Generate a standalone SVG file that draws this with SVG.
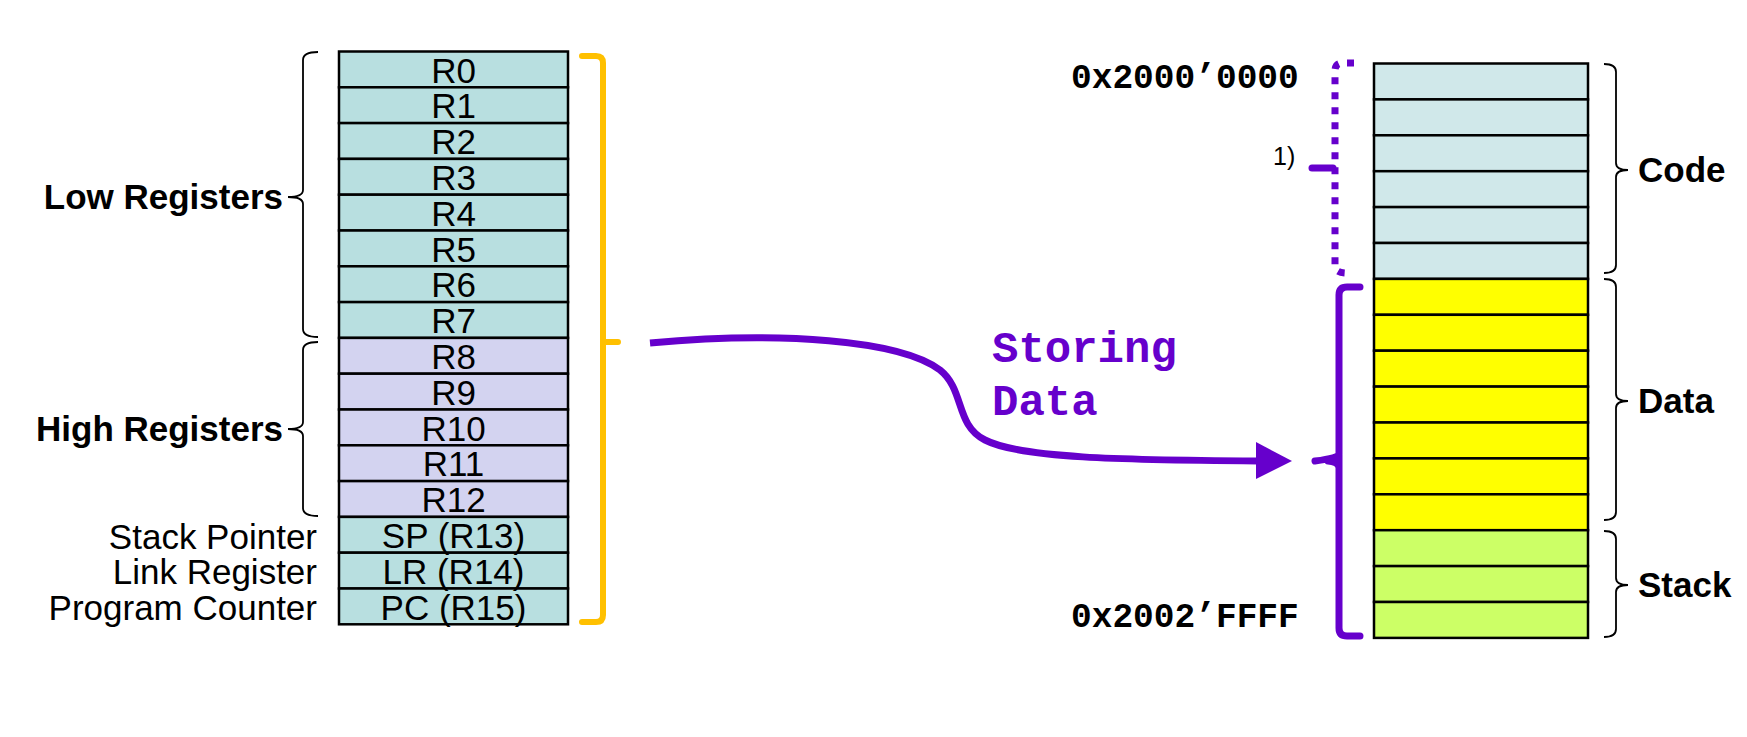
<svg xmlns="http://www.w3.org/2000/svg" width="1747" height="737" viewBox="0 0 1747 737">
<style>
.reg{font-family:"Liberation Sans",Arial,sans-serif;font-size:35px;fill:#000;text-anchor:middle}
.lbl{font-family:"Liberation Sans",Arial,sans-serif;font-size:35px;fill:#000;text-anchor:end}
.bold{font-family:"Liberation Sans",Arial,sans-serif;font-size:35px;font-weight:bold;fill:#000}
.mono{font-family:"Liberation Mono","Courier New",monospace;font-weight:bold;font-size:34.5px;fill:#000}
.purp{font-family:"Liberation Mono","Courier New",monospace;font-weight:bold;font-size:44px;fill:#6600cc}
.cell{stroke:#000;stroke-width:2.5}
.lo{fill:#b8dfe0}.hi{fill:#d3d3f0}.code{fill:#d0e8ea}.data{fill:#ffff00}.stk{fill:#ccff66}
.brace{fill:none;stroke:#000;stroke-width:1.8}
</style>
<g id="registers">
<rect class="cell lo" x="339" y="51.5" width="229" height="35.8"/>
<rect class="cell lo" x="339" y="87.3" width="229" height="35.8"/>
<rect class="cell lo" x="339" y="123.1" width="229" height="35.8"/>
<rect class="cell lo" x="339" y="158.9" width="229" height="35.8"/>
<rect class="cell lo" x="339" y="194.7" width="229" height="35.8"/>
<rect class="cell lo" x="339" y="230.5" width="229" height="35.8"/>
<rect class="cell lo" x="339" y="266.3" width="229" height="35.8"/>
<rect class="cell lo" x="339" y="302.1" width="229" height="35.8"/>
<rect class="cell hi" x="339" y="337.9" width="229" height="35.8"/>
<rect class="cell hi" x="339" y="373.7" width="229" height="35.8"/>
<rect class="cell hi" x="339" y="409.5" width="229" height="35.8"/>
<rect class="cell hi" x="339" y="445.3" width="229" height="35.8"/>
<rect class="cell hi" x="339" y="481.1" width="229" height="35.8"/>
<rect class="cell lo" x="339" y="516.9" width="229" height="35.8"/>
<rect class="cell lo" x="339" y="552.7" width="229" height="35.8"/>
<rect class="cell lo" x="339" y="588.5" width="229" height="35.8"/>
<text class="reg" x="453.5" y="82.5">R0</text>
<text class="reg" x="453.5" y="118.3">R1</text>
<text class="reg" x="453.5" y="154.1">R2</text>
<text class="reg" x="453.5" y="189.9">R3</text>
<text class="reg" x="453.5" y="225.7">R4</text>
<text class="reg" x="453.5" y="261.5">R5</text>
<text class="reg" x="453.5" y="297.3">R6</text>
<text class="reg" x="453.5" y="333.1">R7</text>
<text class="reg" x="453.5" y="368.9">R8</text>
<text class="reg" x="453.5" y="404.7">R9</text>
<text class="reg" x="453.5" y="440.5">R10</text>
<text class="reg" x="453.5" y="476.3">R11</text>
<text class="reg" x="453.5" y="512.1">R12</text>
<text class="reg" x="453.5" y="547.9">SP (R13)</text>
<text class="reg" x="453.5" y="583.7">LR (R14)</text>
<text class="reg" x="453.5" y="619.5">PC (R15)</text>
</g>
<g id="register-labels">
<text class="lbl" x="317" y="548.5">Stack Pointer</text>
<text class="lbl" x="317" y="584.3">Link Register</text>
<text class="lbl" x="317" y="620.1">Program Counter</text>
<path class="brace" d="M318,52 Q303,52 303,60 L303,190 Q303,197 288,197 Q303,197 303,204 L303,329 Q303,337 318,337"/>
<text class="bold" x="283" y="209" text-anchor="end">Low Registers</text>
<path class="brace" d="M318,342 Q303,342 303,350 L303,422 Q303,429 288,429 Q303,429 303,436 L303,508 Q303,516 318,516"/>
<text class="bold" x="283" y="441" text-anchor="end">High Registers</text>
</g>
<g id="orange-bracket">
<path d="M582,56 L596,56 Q603,56 603,63 L603,615 Q603,622 596,622 L582,622 M603,342 L618,342" fill="none" stroke="#ffc000" stroke-width="6" stroke-linecap="round"/>
</g>
<g id="memory">
<rect class="cell code" x="1374" y="63.5" width="214" height="35.9"/>
<rect class="cell code" x="1374" y="99.4" width="214" height="35.9"/>
<rect class="cell code" x="1374" y="135.3" width="214" height="35.9"/>
<rect class="cell code" x="1374" y="171.2" width="214" height="35.9"/>
<rect class="cell code" x="1374" y="207.1" width="214" height="35.9"/>
<rect class="cell code" x="1374" y="243" width="214" height="35.9"/>
<rect class="cell data" x="1374" y="278.9" width="214" height="35.9"/>
<rect class="cell data" x="1374" y="314.8" width="214" height="35.9"/>
<rect class="cell data" x="1374" y="350.7" width="214" height="35.9"/>
<rect class="cell data" x="1374" y="386.6" width="214" height="35.9"/>
<rect class="cell data" x="1374" y="422.5" width="214" height="35.9"/>
<rect class="cell data" x="1374" y="458.4" width="214" height="35.9"/>
<rect class="cell data" x="1374" y="494.3" width="214" height="35.9"/>
<rect class="cell stk" x="1374" y="530.2" width="214" height="35.9"/>
<rect class="cell stk" x="1374" y="566.1" width="214" height="35.9"/>
<rect class="cell stk" x="1374" y="602" width="214" height="35.9"/>
</g>
<g id="memory-labels">
<path class="brace" d="M1604,64 Q1616,64 1616,72 L1616,163 Q1616,170 1628,170 Q1616,170 1616,177 L1616,265 Q1616,273 1604,273"/>
<text class="bold" x="1638" y="182">Code</text>
<path class="brace" d="M1604,279 Q1616,279 1616,287 L1616,394 Q1616,401 1628,401 Q1616,401 1616,408 L1616,512 Q1616,520 1604,520"/>
<text class="bold" x="1638" y="413">Data</text>
<path class="brace" d="M1604,531 Q1616,531 1616,539 L1616,578 Q1616,585 1628,585 Q1616,585 1616,592 L1616,629 Q1616,637 1604,637"/>
<text class="bold" x="1638" y="597">Stack</text>
</g>
<g id="addresses">
<text class="mono" x="1071" y="88">0x2000’0000</text>
<text class="mono" x="1071" y="627">0x2002’FFFF</text>
<path d="M1354,63 L1343,63 Q1335,63 1335,71 L1335,266 Q1335,273 1347,273" fill="none" stroke="#6600cc" stroke-width="7" stroke-dasharray="7 8"/>
<path d="M1312,168 L1333,168" fill="none" stroke="#6600cc" stroke-width="7" stroke-linecap="round"/>
<text x="1273" y="165" font-family="Liberation Sans, Arial, sans-serif" font-size="25" fill="#000">1)</text>
<path d="M1360,287 L1347,287 Q1339,287 1339,295 L1339,628 Q1339,636 1347,636 L1360,636 M1315,461 Q1339,458 1339,454 M1339,468 Q1339,462 1328,461" fill="none" stroke="#6600cc" stroke-width="7" stroke-linecap="round"/>
</g>
<g id="connectors">
<path d="M650,343 C780,331 900,340 940,370 C965,390 955,425 985,440 C1020,458 1120,460 1258,461" fill="none" stroke="#6600cc" stroke-width="7"/>
<polygon points="1256,442 1292,461 1256,479" fill="#6600cc"/>
<text class="purp" x="992" y="362">Storing</text>
<text class="purp" x="992" y="415">Data</text>
</g>
</svg>
